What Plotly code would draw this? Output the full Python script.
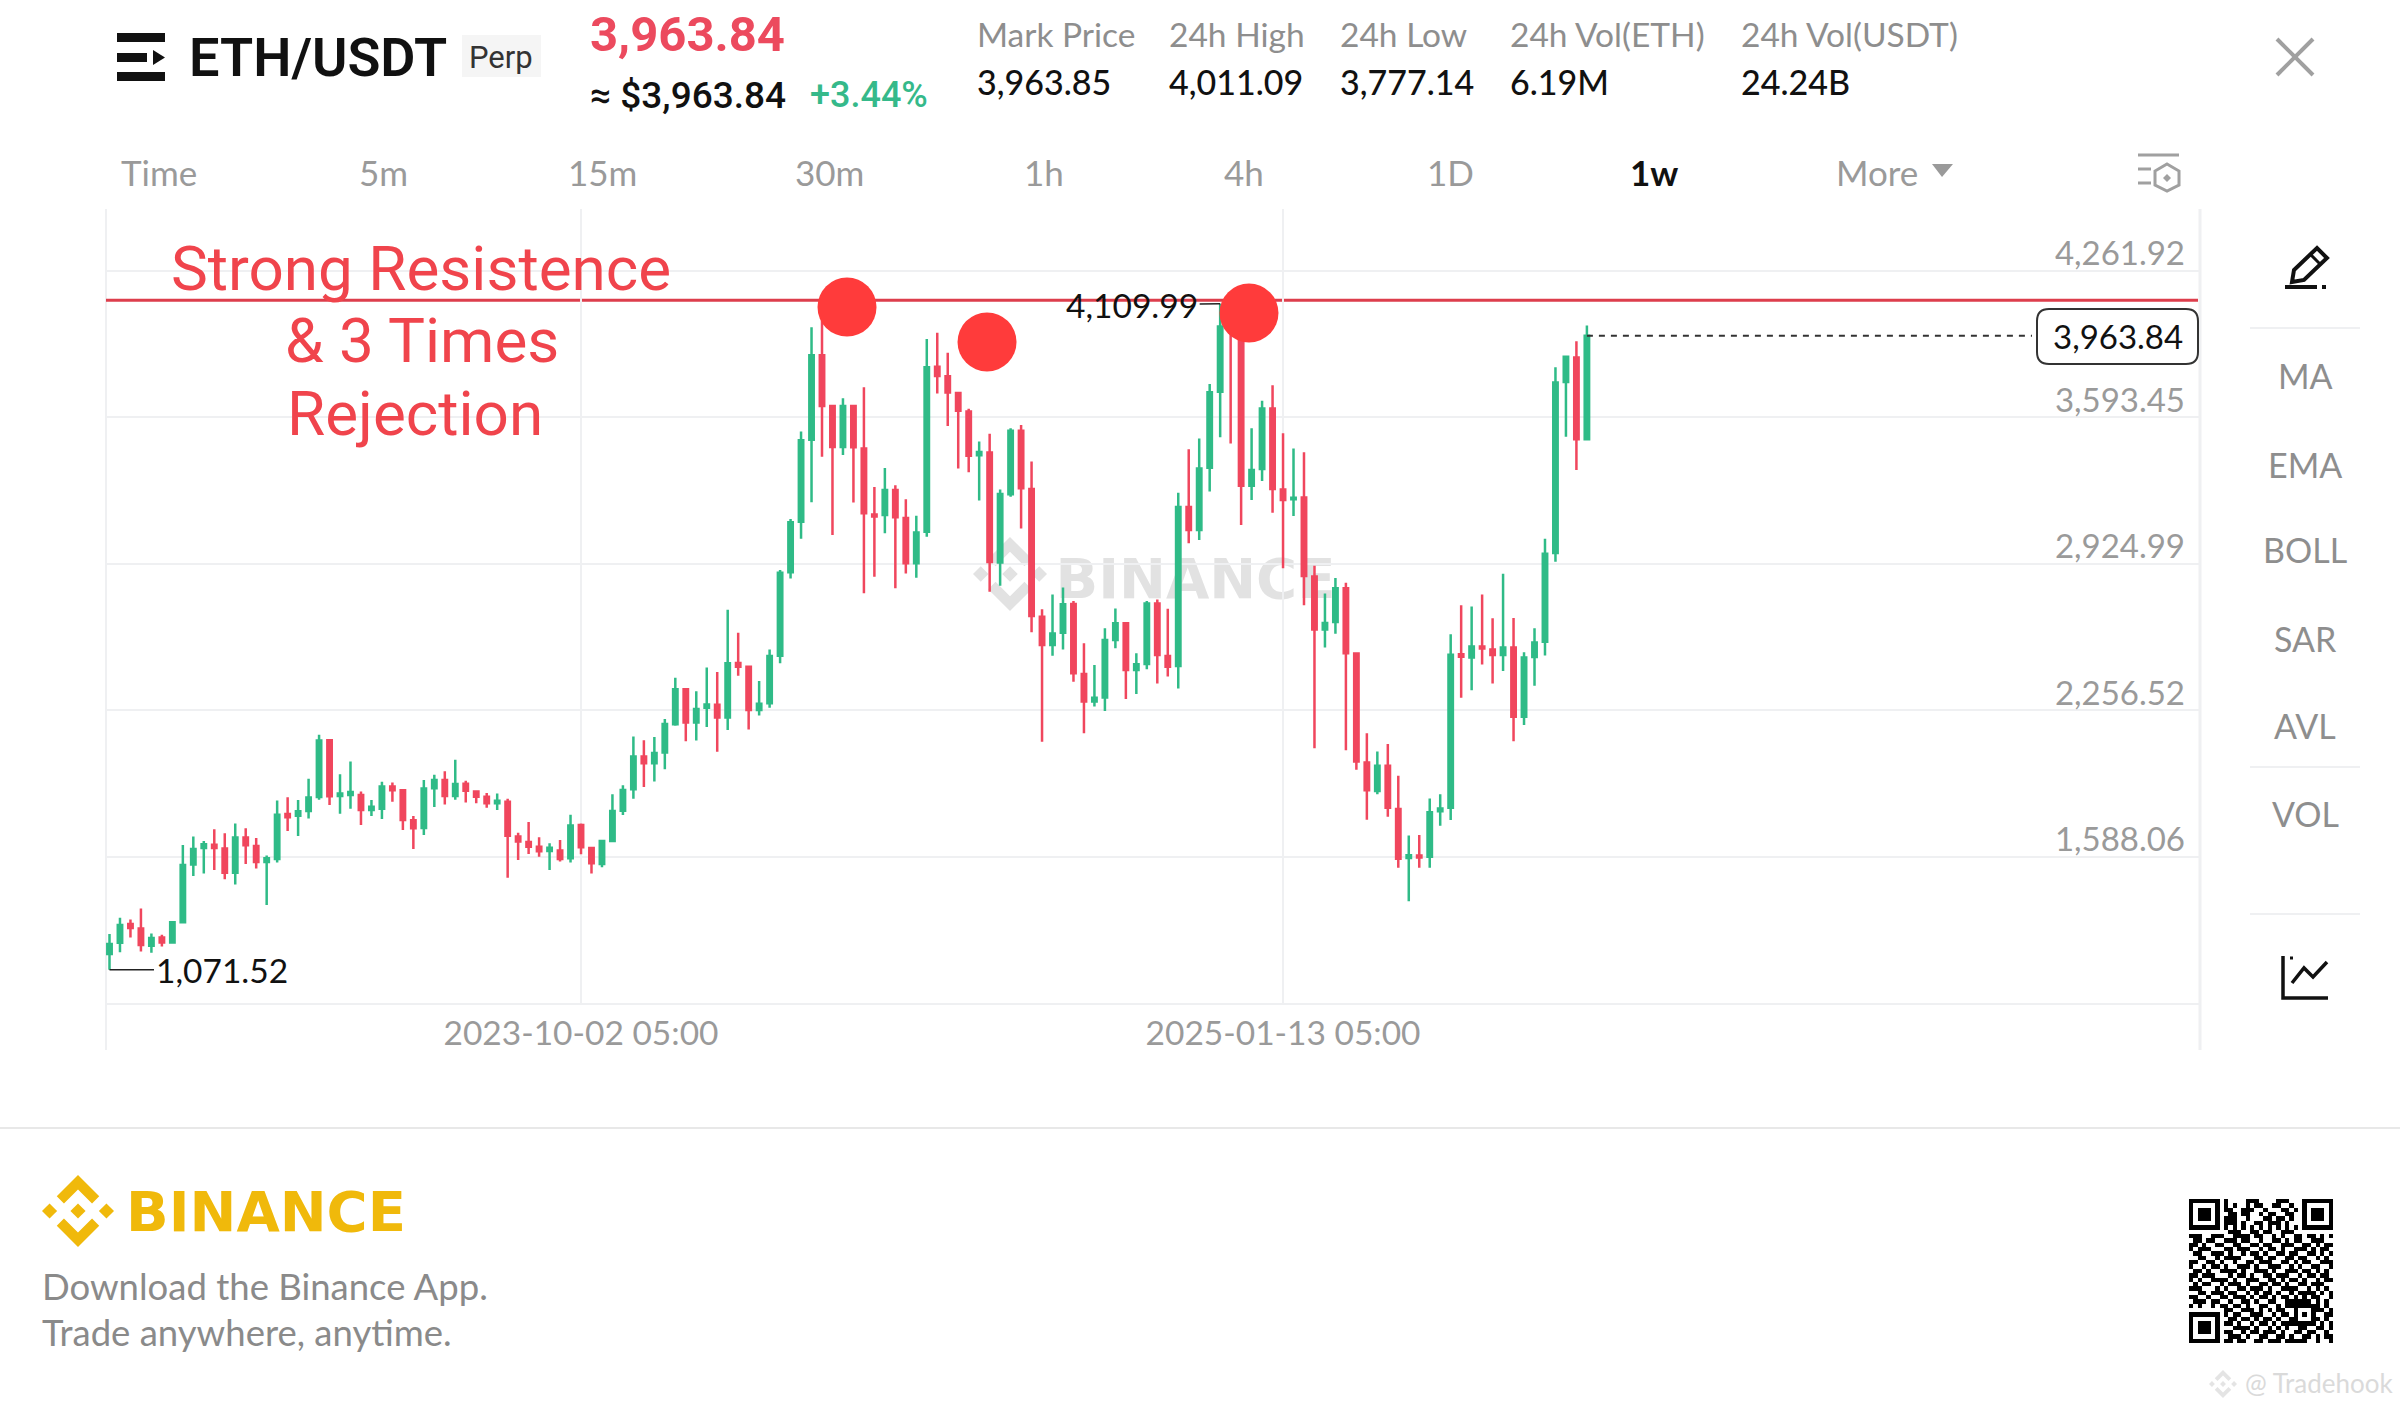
import pandas as pd
import plotly.graph_objects as go

W = 2400
H = 1410

# weekly ETH/USDT candles
start_date = '2022-11-21 05:00'
open_prices = [1143,1195,1280,1259,1181,1218,1196,1288,1552,1627,
               1642,1625,1514,1675,1636,1563,1577,1782,1774,1796,
               1860,2118,1864,1869,1869,1800,1806,1908,1890,1753,
               1718,1899,1937,1864,1920,1885,1861,1831,1838,1679,
               1654,1633,1613,1616,1580,1732,1627,1554,1659,1797,
               1895,2044,2013,2063,2191,2351,2199,2267,2281,2222,
               2471,2454,2257,2287,2504,2885,3116,3490,3875,3644,
               3457,3644,3450,3149,3146,3260,3133,2926,3070,3823,
               3779,3703,3619,3419,3432,2930,3241,3531,3265,2682,
               2553,2609,2740,2421,2295,2314,2576,2652,2439,2466,
               2743,2503,2457,3183,3078,3362,3709,4040,3985,3280,
               3356,3632,3263,3218,3226,2866,2624,2658,2812,2514,
               2017,1887,2002,1805,1581,1593,1587,1795,1810,2511,
               2496,2546,2533,2507,2542,2226,2498,2568,2973,3753,
               3865,3492]
high_prices = [1234,1309,1301,1351,1237,1231,1294,1641,1679,1659,
               1712,1694,1739,1717,1672,1593,1844,1858,1846,1943,
               2144,2124,1963,2021,1885,1846,1929,1926,1896,1773,
               1937,1961,1977,2030,1934,1888,1878,1876,1852,1697,
               1746,1676,1648,1663,1779,1739,1630,1660,1872,1913,
               2136,2118,2133,2215,2404,2354,2342,2451,2430,2714,
               2609,2460,2389,2533,2895,3128,3527,4003,4051,3644,
               3679,3644,3729,3274,3361,3282,3218,3143,3949,3978,
               3887,3709,3631,3482,3517,3263,3542,3557,3391,2716,
               2783,2815,2754,2561,2462,2629,2720,2658,2515,2754,
               2761,2719,3248,3446,3495,3744,4109.99,4094,4020,3542,
               3668,3738,3519,3450,3433,2915,2788,2859,2837,2518,
               2151,2067,2101,1956,1684,1686,1853,1872,2602,2734,
               2729,2784,2675,2878,2676,2520,2630,3038,3820,3872,
               3939,4011]
low_prices = [1071.52,1151,1218,1155,1149,1177,1192,1286,1499,1511,
              1526,1484,1460,1554,1533,1367,1561,1704,1682,1762,
              1847,1823,1783,1806,1732,1773,1759,1838,1709,1622,
              1686,1814,1825,1847,1835,1831,1811,1800,1491,1572,
              1599,1587,1526,1565,1561,1598,1511,1539,1654,1777,
              1852,1905,1930,1986,2185,2114,2117,2179,2066,2165,
              2413,2167,2232,2267,2470,2857,3038,3204,3412,3055,
              3420,3203,2789,2865,3063,2812,2879,2860,3047,3701,
              3552,3359,3341,3213,2796,2824,3230,3085,2611,2112,
              2504,2533,2386,2150,2272,2252,2538,2307,2330,2442,
              2378,2409,2355,3017,3032,3253,3501,3473,3101,3215,
              3301,3157,2903,3142,2734,2082,2542,2604,2073,1984,
              1756,1872,1769,1537,1384,1537,1537,1728,1755,2313,
              2347,2464,2378,2434,2114,2188,2367,2505,2933,3503,
              3352,3490]
close_prices = [1189,1275,1262,1184,1216,1196,1288,1549,1622,1644,
                1627,1514,1675,1639,1563,1580,1779,1767,1794,1857,
                2117,1863,1875,1882,1800,1815,1907,1890,1755,1717,
                1898,1937,1864,1919,1888,1861,1831,1843,1683,1656,
                1633,1612,1628,1577,1729,1630,1557,1659,1796,1892,
                2044,2013,2060,2193,2351,2199,2261,2282,2222,2470,
                2454,2257,2285,2503,2883,3113,3487,3875,3644,3457,
                3644,3455,3154,3140,3260,3136,2926,3067,3820,3781,
                3705,3622,3417,3434,2932,3242,3531,3268,2686,2553,
                2606,2739,2424,2295,2313,2576,2652,2439,2465,2743,
                2508,2454,3183,3078,3359,3706,4006,3990,3280,3352,
                3632,3265,3215,3225,2868,2624,2654,2812,2516,2021,
                1890,2002,1810,1578,1594,1583,1790,1807,2509,2500,
                2546,2537,2507,2542,2226,2496,2565,2969,3751,3868,
                3492,3963.84]

y_ticks = [919.59, 1588.06, 2256.52, 2924.99, 3593.45, 4261.92]
y_labels = ['919.59', '1,588.06', '2,256.52', '2,924.99', '3,593.45', '4,261.92']
x_ticks = ['2023-10-02 05:00', '2025-01-13 05:00']
x_labels = ['2023-10-02 05:00', '2025-01-13 05:00']

resistance_level = 4126
rejection_dates = ['2024-03-27 22:00', '2024-06-29 11:00', '2024-12-21 11:00']
rejection_prices = [4095, 3936, 4068]

stat_names = ['Mark Price', '24h High', '24h Low', '24h Vol(ETH)', '24h Vol(USDT)']
stat_values = ['3,963.85', '4,011.09', '3,777.14', '6.19M', '24.24B']
intervals = ['Time', '5m', '15m', '30m', '1h', '4h', '1D', '1w', 'More']
indicators = ['MA', 'EMA', 'BOLL', 'SAR', 'AVL', 'VOL']

qr_rows = [
    '111111101000011100001110001111111',
    '100000101010010110011001001000001',
    '101110101100111001000110101011101',
    '101110100110110010110011001011101',
    '101110101110010001101101001011101',
    '100000101110100110111010001000001',
    '111111101010101010101010101111111',
    '000000000111001101100111000000000',
    '111001110011110110010100110110101',
    '011011001110110010011010110011100',
    '110100110011001101100111001101011',
    '101110001101110010110100111010110',
    '011001110100101101001101100110101',
    '001100101111000110110011011001010',
    '110011010010011011100110101100111',
    '100101101001110100111001010011001',
    '011010011110100111010011101101010',
    '110111000101101001101110010110110',
    '101001111010011100110101101001011',
    '010110010111010011011010011011100',
    '111000101001101110100111100101010',
    '001101110110010101101001011110101',
    '110010011011101011010110101011001',
    '011101100100110100110011111101010',
    '101001011011010011001011111111010',
    '000000001100111010101100100011101',
    '111111101011001110010110101010011',
    '100000100110110101101001100011010',
    '101110101101001011010111111110101',
    '101110100011110100101010011001101',
    '101110101100101101110100110110010',
    '100000100111010011001101001101011',
    '111111101101100110111011111001001',
]

GREEN = '#2FBB87'
RED = '#F0465D'
GRID = '#EFF0F2'
GRAY = '#9A9A9A'
FONT = 'Lato'

dates = list(pd.date_range(start_date, periods=len(open_prices), freq='7D'))
first = pd.Timestamp(start_date)


def fx(x):
    return x / W


def fy(y):
    return 1 - y / H


def x_date(x):
    # date sitting at a given pixel of the plot area
    return first + pd.Timedelta(days=(x - 109.5) / 10.478 * 7)


fig = go.Figure()
fig.add_trace(go.Candlestick(x=dates, open=open_prices, high=high_prices,
                             low=low_prices, close=close_prices,
                             increasing=dict(line=dict(color=GREEN, width=2.5), fillcolor=GREEN),
                             decreasing=dict(line=dict(color=RED, width=2.5), fillcolor=RED),
                             showlegend=False))
fig.add_trace(go.Scatter(x=rejection_dates, y=rejection_prices, mode='markers',
                         marker=dict(size=59, color='#FF3B3B'), showlegend=False))

qr_matrix = [[int(c) for c in row] for row in qr_rows]
fig.add_trace(go.Heatmap(z=qr_matrix, xaxis='x2', yaxis='y2', showscale=False,
                         colorscale=[[0, '#FFFFFF'], [1, '#000000']]))


def text(x, y, s, size, color, anchor='left', weight=400, family=FONT):
    fig.add_annotation(xref='paper', yref='paper', x=fx(x), y=fy(y), text=s, showarrow=False,
                       xanchor=anchor, yanchor='middle',
                       font=dict(size=size, color=color, family=family, weight=weight))


def path(points, close=True):
    s = 'M ' + ' L '.join(f'{fx(x):.5f} {fy(y):.5f}' for x, y in points)
    return s + (' Z' if close else '')


def polygon(points, fill=None, line=None, width=0, close=True, layer='above'):
    fig.add_shape(type='path', xref='paper', yref='paper', path=path(points, close), layer=layer,
                  fillcolor=fill if fill else 'rgba(0,0,0,0)',
                  line=dict(color=line if line else 'rgba(0,0,0,0)', width=width))


def seg(x0, y0, x1, y1, color, width, layer='above'):
    fig.add_shape(type='line', xref='paper', yref='paper', x0=fx(x0), y0=fy(y0), x1=fx(x1), y1=fy(y1),
                  line=dict(color=color, width=width), layer=layer)


def binance_logo(cx, cy, r, color, layer='above'):
    top = [(0, -1), (0.59, -0.41), (0.39, -0.21), (0, -0.6), (-0.39, -0.21), (-0.59, -0.41)]
    polygon([(cx + a * r, cy + b * r) for a, b in top], fill=color, layer=layer)
    polygon([(cx + a * r, cy - b * r) for a, b in top], fill=color, layer=layer)
    for dx in (-0.79, 0, 0.79):
        d = 0.21
        polygon([(cx + (dx - d) * r, cy), (cx + dx * r, cy - d * r),
                 (cx + (dx + d) * r, cy), (cx + dx * r, cy + d * r)], fill=color, layer=layer)


# header
for y0, y1, x1 in [(33, 42, 165), (53, 62, 147), (72, 81, 165)]:
    polygon([(117, y0), (x1, y0), (x1, y1), (117, y1)], fill='#111111')
polygon([(153, 50), (165, 57.5), (153, 65)], fill='#111111')
text(187, 58, 'ETH/USDT', 54, '#111111', weight=600, family='Roboto')
polygon([(462, 35), (541, 35), (541, 77), (462, 77)], fill='#F5F5F5')
text(501, 58, 'Perp', 31, '#333333', anchor='center', family='Roboto')
text(588, 34, '3,963.84', 49, '#EC4A5E', weight=700, family='Roboto')
text(588, 95, '≈ $3,963.84', 37, '#111111', weight=500, family='Roboto')
text(808, 95, '+3.44%', 36, '#35B98A', weight=500, family='Roboto')

stat_x = [975, 1167, 1338, 1508, 1739]
for x, name, value in zip(stat_x, stat_names, stat_values):
    text(x, 34, name, 33.5, '#8E8E8E', family=FONT)
    text(x, 81, value, 34, '#111111', weight=500, family=FONT)

tab_x = [159, 383, 603, 829, 1044, 1244, 1450, 1654, 1877]
for x, name in zip(tab_x, intervals):
    on = name == '1w'
    text(x, 172, name, 35, '#111111' if on else GRAY, anchor='center', weight=700 if on else 400)
polygon([(1932, 164), (1953, 164), (1942, 177)], fill=GRAY)

# filter icon and close
seg(2138, 155, 2179, 155, '#A0A0A0', 3)
seg(2138, 169, 2151, 169, '#A0A0A0', 3)
seg(2138, 183, 2151, 183, '#A0A0A0', 3)
polygon([(2167, 164), (2179, 171), (2179, 185), (2167, 191), (2155, 185), (2155, 171)], line='#A0A0A0', width=3)
polygon([(2167, 174), (2171, 178), (2167, 182), (2163, 178)], fill='#A0A0A0')
seg(2277, 39, 2313, 75, '#A0A0A0', 4)
seg(2313, 39, 2277, 75, '#A0A0A0', 4)

# side toolbar
polygon([(2292, 282), (2294, 270), (2317, 248), (2327, 258), (2304, 280)], line='#111111', width=4)
seg(2310, 254, 2321, 265, '#111111', 3)
seg(2285, 287, 2317, 287, '#111111', 4)
seg(2322, 287, 2326, 287, '#111111', 4)
side_y = [376, 464, 549, 638, 725, 814]
for y, name in zip(side_y, indicators):
    text(2305, y, name, 34, '#8E8E8E', anchor='center')
for y in (328, 767, 914):
    seg(2250, y, 2360, y, GRID, 2)
polygon([(2283, 956), (2283, 998), (2328, 998)], line='#111111', width=3.5, close=False)
polygon([(2292, 983), (2304, 968), (2313, 977), (2327, 962)], line='#111111', width=3.5, close=False)
seg(2290, 958, 2293, 958, '#111111', 3)

# chart frame
seg(106, 209, 106, 1050, GRID, 2, layer='below')
seg(2200, 209, 2200, 1050, GRID, 3, layer='below')

# watermark under the candles
binance_logo(1010, 574, 37, '#E2E2E2', layer='below')
fig.add_shape(type='rect', xref='paper', yref='paper', x0=fx(1059), x1=fx(1332), y0=fy(610), y1=fy(538),
              line=dict(width=0), layer='below',
              label=dict(text='BINANCE', textposition='middle center',
                         font=dict(size=56, color='#E2E2E2', family='DejaVu Sans', weight=700)))

fig.add_shape(type='line', xref='paper', yref='y', x0=fx(106), x1=fx(2198),
              y0=resistance_level, y1=resistance_level, line=dict(color='#DD3E4C', width=3), layer='below')

# last price
fig.add_shape(type='line', xref='x', yref='y', x0=dates[-1], x1=x_date(2032),
              y0=close_prices[-1], y1=close_prices[-1], line=dict(color='#333333', width=2, dash='6px,6px'))
bx0, by0, bx1, by1, rad = 2037, 309, 2198, 364, 12
fig.add_shape(type='path', xref='paper', yref='paper', fillcolor='#FFFFFF', line=dict(color='#333333', width=2),
              path=(f'M {fx(bx0 + rad)} {fy(by0)} L {fx(bx1 - rad)} {fy(by0)} '
                    f'Q {fx(bx1)} {fy(by0)} {fx(bx1)} {fy(by0 + rad)} L {fx(bx1)} {fy(by1 - rad)} '
                    f'Q {fx(bx1)} {fy(by1)} {fx(bx1 - rad)} {fy(by1)} L {fx(bx0 + rad)} {fy(by1)} '
                    f'Q {fx(bx0)} {fy(by1)} {fx(bx0)} {fy(by1 - rad)} L {fx(bx0)} {fy(by0 + rad)} '
                    f'Q {fx(bx0)} {fy(by0)} {fx(bx0 + rad)} {fy(by0)} Z'))
text(2118, 336, '3,963.84', 33, '#111111', anchor='center')

# high and low labels on the candles
fig.add_annotation(x=dates[low_prices.index(min(low_prices))], y=min(low_prices), text='1,071.52', ax=112, ay=0,
                   arrowhead=0, arrowwidth=1.5, arrowcolor='#222222', startstandoff=0,
                   font=dict(size=33.5, color='#111111', family=FONT))
fig.add_annotation(x=dates[high_prices.index(max(high_prices))], y=max(high_prices), text='4,109.99', ax=-88, ay=1,
                   arrowhead=0, arrowwidth=1.5, arrowcolor='#222222', startstandoff=0,
                   font=dict(size=33.5, color='#111111', family=FONT))

# hand drawn note
text(421, 268, 'Strong Resistence', 62, '#F0444C', anchor='center', family='Roboto')
text(422, 341, '&amp; 3 Times', 62, '#F0444C', anchor='center', family='Roboto')
text(415, 414, 'Rejection', 62, '#F0444C', anchor='center', family='Roboto')

# footer
seg(0, 1128, W, 1128, '#E8E8E8', 2)
binance_logo(78, 1211, 36, '#F0B90B')
text(124, 1211, 'BINANCE', 56, '#F0B90B', weight=700, family='DejaVu Sans')
text(40, 1286, 'Download the Binance App.', 36.5, '#8A8A8A')
text(40, 1332, 'Trade anywhere, anytime.', 36.5, '#8A8A8A')
binance_logo(2223, 1384, 14, '#E4E4E4')
text(2243, 1383, '@ Tradehook', 26, '#DADADA')

fig.update_layout(
    width=W, height=H, margin=dict(l=0, r=0, t=0, b=0),
    paper_bgcolor='white', plot_bgcolor='white',
    showlegend=False, boxgap=0.4,
    xaxis=dict(domain=[fx(106), fx(2200)], range=[x_date(106), x_date(2200)], type='date',
               rangeslider=dict(visible=False), tickmode='array', tickvals=x_ticks, ticktext=x_labels,
               showgrid=True, gridcolor=GRID, gridwidth=2, showline=True, linecolor=GRID, linewidth=2,
               zeroline=False, ticks='', ticklabelstandoff=0,
               tickfont=dict(size=33.5, color=GRAY, family=FONT)),
    yaxis=dict(domain=[fy(1003), fy(209)], range=[919.59, 4542.6], side='right',
               tickmode='array', tickvals=y_ticks, ticktext=y_labels,
               ticklabelposition='inside', ticklabelstandoff=12, ticklabelshift=-17,
               showgrid=True, gridcolor=GRID, gridwidth=2, zeroline=False, showline=False, ticks='',
               tickfont=dict(size=33, color=GRAY, family=FONT)),
    xaxis2=dict(domain=[fx(2189), fx(2333)], anchor='y2', visible=False),
    yaxis2=dict(domain=[fy(1343), fy(1199)], anchor='x2', visible=False, autorange='reversed'),
)

fig.write_html('out.html', config=dict(displayModeBar=False),
               post_script="document.body.style.margin='0';")
